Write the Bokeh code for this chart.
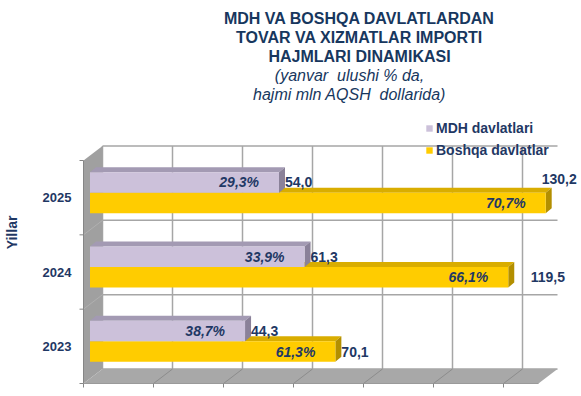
import numpy as np
from bokeh.plotting import figure
from bokeh.models import Range1d, Label, Legend, LegendItem
from bokeh.embed import file_html
from bokeh.resources import INLINE
from bokeh.core.properties import value

# ---------------- data ----------------
years = ["2023", "2024", "2025"]
mdh_values = [44.3, 61.3, 54.0]
other_values = [70.1, 119.5, 130.2]
mdh_share = ["38,7%", "33,9%", "29,3%"]
other_share = ["61,3%", "66,1%", "70,7%"]
series_names = ["MDH davlatlari", "Boshqa davlatlar"]
x_ticks = [0, 20, 40, 60, 80, 100, 120]
x_max = 130
title_lines = ["MDH VA BOSHQA DAVLATLARDAN", "TOVAR VA XIZMATLAR IMPORTI", "HAJMLARI DINAMIKASI"]
subtitle_lines = ["(yanvar\u00a0 ulushi % da,", "hajmi mln AQSH\u00a0 dollarida)"]
axis_title = "Yillar"

# ---------------- layout / style ----------------
W, H = 581, 396
PX = 3.5          # px per value unit
PY = 74.33        # px per category
X0 = 83           # canvas x of value 0 (front plane)
Y0 = 13           # canvas px from bottom of category base (front plane)
FONT = "Liberation Sans"
NAVY = "#1F3864"
TITLE_C = "#17375E"
LAV, LAV_TOP, LAV_SIDE = "#CCC1DA", "#A39AB3", "#8A8199"
YEL, YEL_TOP, YEL_SIDE = "#FFCC00", "#D9AD00", "#B38F00"
GRID = "#A6A6A6"
WALL = "#A0A0A0"
FLOOR = "#A8A8A8"


def dx(px):
    return px / PX


def dy(px):
    return px / PY


BACK = (dx(19), dy(14.5))
BFRONT = (dx(6.5), dy(5))
DEPTH = (dx(6), dy(5))
BAR_H = dy(20.5)
ncat = len(years)

p = figure(width=W, height=H, output_backend="svg", toolbar_location=None,
           x_range=Range1d(-X0 / PX, (W - X0) / PX),
           y_range=Range1d(-Y0 / PY, (H - Y0) / PY),
           min_border=0, min_border_left=0, min_border_right=0,
           min_border_top=0, min_border_bottom=0)
p.xaxis.visible = False
p.yaxis.visible = False
p.xgrid.visible = False
p.ygrid.visible = False
p.outline_line_color = None
p.background_fill_color = "white"
p.border_fill_color = "white"

# back wall gridlines
bx, by = BACK
p.segment(x0=[t + bx for t in x_ticks], y0=[by] * len(x_ticks),
          x1=[t + bx for t in x_ticks], y1=[ncat + by] * len(x_ticks),
          line_color=GRID, line_width=1.5)
p.segment(x0=[bx] * (ncat + 1), y0=[u + by for u in range(ncat + 1)],
          x1=[x_max + bx] * (ncat + 1), y1=[u + by for u in range(ncat + 1)],
          line_color=GRID, line_width=1.5)

# left wall and floor
p.patch(x=[0, 0, bx, bx], y=[0, ncat, ncat + by, by], fill_color=WALL, line_color=None)
p.patch(x=[0, x_max, x_max + bx, bx], y=[0, 0, by, by], fill_color=FLOOR, line_color=None)
p.segment(x0=x_ticks[1:], y0=[0] * (len(x_ticks) - 1),
          x1=[t + bx for t in x_ticks[1:]], y1=[by] * (len(x_ticks) - 1),
          line_color="#8C8C8C", line_width=1)
p.segment(x0=[0] * (ncat - 1), y0=list(range(1, ncat)),
          x1=[bx] * (ncat - 1), y1=[u + by for u in range(1, ncat)],
          line_color="#B0B0B0", line_width=1)

# front axes
p.segment(x0=[0], y0=[0], x1=[0], y1=[ncat], line_color="#868686", line_width=1)
p.segment(x0=[0] * (ncat + 1), y0=list(range(ncat + 1)),
          x1=[dx(-4)] * (ncat + 1), y1=list(range(ncat + 1)),
          line_color="#868686", line_width=1)
p.segment(x0=[0], y0=[0], x1=[x_max], y1=[0], line_color="#9A9A9A", line_width=1)
p.segment(x0=x_ticks, y0=[0] * len(x_ticks), x1=x_ticks, y1=[dy(-4)] * len(x_ticks),
          line_color="#868686", line_width=1)

uc = np.arange(ncat) + 0.5


def draw_bars(vals, bottoms, front_c, top_c, side_c):
    vals = np.asarray(vals, dtype=float)
    left = BFRONT[0]
    rights = vals + BFRONT[0]
    tops = bottoms + BAR_H
    d0, d1 = DEPTH
    p.patches(xs=[[left, left + d0, r + d0, r] for r in rights],
              ys=[[t, t + d1, t + d1, t] for t in tops],
              fill_color=top_c, line_color=None)
    p.patches(xs=[[r, r, r + d0, r + d0] for r in rights],
              ys=[[b, t, t + d1, b + d1] for b, t in zip(bottoms, tops)],
              fill_color=side_c, line_color=None)
    r = p.quad(left=[left] * len(vals), right=rights, bottom=bottoms, top=tops,
               fill_color=front_c, line_color=None)
    return r, rights, (bottoms + tops) / 2


yel_r, yel_right, yel_mid = draw_bars(other_values, uc + BFRONT[1] - BAR_H, YEL, YEL_TOP, YEL_SIDE)
lav_r, lav_right, lav_mid = draw_bars(mdh_values, uc + BFRONT[1], LAV, LAV_TOP, LAV_SIDE)


def fmt(v):
    return f"{v:.1f}".replace(".", ",")


# percent labels inside bars
for rights, mids, shares in ((lav_right, lav_mid, mdh_share), (yel_right, yel_mid, other_share)):
    p.text(x=rights - dx(20), y=mids, text=shares, text_align="right", text_baseline="middle",
           text_font=value(FONT), text_font_size="14px", text_font_style="bold italic",
           text_color=NAVY)

# value labels
label_shift = {(1, 1): (16.5, 0), (1, 2): (-10, 23.5)}
for si, (rights, mids, vals) in enumerate(((lav_right, lav_mid, mdh_values),
                                           (yel_right, yel_mid, other_values))):
    xs, ys = [], []
    for ci in range(ncat):
        sx, sy = label_shift.get((si, ci), (0, 0))
        xs.append(rights[ci] + DEPTH[0] + dx(sx))
        ys.append(mids[ci] + dy(sy))
    p.text(x=xs, y=ys, text=[fmt(v) for v in vals], text_align="left", text_baseline="middle",
           text_font=value(FONT), text_font_size="14px", text_font_style="bold",
           text_color=NAVY)

# category labels
p.text(x=[dx(-12)] * ncat, y=uc, text=years, text_align="right", text_baseline="middle",
       text_font=value(FONT), text_font_size="13px", text_font_style="bold", text_color=NAVY)

# axis title
p.add_layout(Label(x=11, y=164, x_units="screen", y_units="screen", text=axis_title,
                   angle=np.pi / 2, text_align="center", text_baseline="middle",
                   text_font=FONT, text_font_size="14px", text_font_style="bold",
                   text_color=NAVY))

# title
for i, t in enumerate(title_lines):
    p.add_layout(Label(x=359, y=378 - 19 * i, x_units="screen", y_units="screen", text=t,
                       text_align="center", text_baseline="middle", text_font=FONT,
                       text_font_size="16px", text_font_style="bold", text_color=TITLE_C))
for i, t in enumerate(subtitle_lines):
    p.add_layout(Label(x=349, y=321 - 19 * i, x_units="screen", y_units="screen", text=t,
                       text_align="center", text_baseline="middle", text_font=FONT,
                       text_font_size="16px", text_font_style="italic", text_color=TITLE_C))

# legend
legend = Legend(items=[LegendItem(label=series_names[0], renderers=[lav_r]),
                       LegendItem(label=series_names[1], renderers=[yel_r])],
                location=(425, 235), orientation="vertical",
                glyph_width=8, glyph_height=8, label_height=22, label_standoff=3,
                spacing=0, padding=0, margin=0,
                label_text_font=FONT, label_text_font_size="14px",
                label_text_font_style="bold", label_text_color=NAVY,
                border_line_alpha=0, background_fill_alpha=0)
p.add_layout(legend)

open("out.html", "w").write(file_html(p, INLINE))
